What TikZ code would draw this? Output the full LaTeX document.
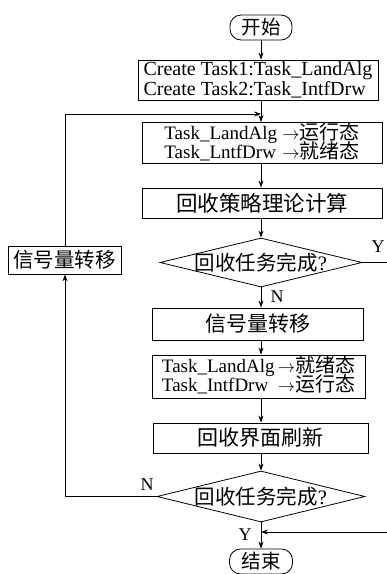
\documentclass[tikz,border=0pt]{standalone}
\usepackage{fontspec}
\setmainfont{Liberation Serif}
\newfontfamily\cjk{Noto Sans CJK SC}
\newcommand\zh[1]{{\cjk\fontsize{20}{17}\selectfont #1}}
\usetikzlibrary{shapes.geometric,arrows.meta}
\begin{document}
\begin{tikzpicture}[x=1pt,y=-1pt,
  line width=0.8pt,
  arr/.style={-{Stealth[length=7pt,width=5pt]}},
  box/.style={draw, rectangle, inner sep=0pt},
  term/.style={draw, rectangle, rounded corners=11pt, inner sep=0pt},
  dia/.style={draw, diamond, inner sep=0pt},
  zhf/.style={font=\cjk\fontsize{20.5}{20}\selectfont},
  enf/.style={font=\fontsize{19}{17}\selectfont},
  lbl/.style={font=\fontsize{18}{18}\selectfont, inner sep=0pt}
]
\useasboundingbox (0,0) rectangle (387,574);

\node[term, font=\cjk\fontsize{19.5}{20}\selectfont, minimum width=62, minimum height=25] (start) at (261,27.5) {开始};
\node[box, minimum width=240, minimum height=40, align=left,
  font=\fontsize{20}{16}\selectfont] (b1) at (258,80)
  {Create Task1:Task\_LandAlg\\Create Task2:Task\_IntfDrw};
\node[box, enf, minimum width=240, minimum height=38] (b2) at (262,143)
  {\begin{tabular}{@{}l@{}l@{}}Task\_LandAlg&\,$\rightarrow$\zh{运行态}\\[-3pt]Task\_LntfDrw\,&\,$\rightarrow$\zh{就绪态}\end{tabular}};
\node[box, font=\cjk\fontsize{21.5}{20}\selectfont, minimum width=240, minimum height=30] (b3) at (262,203) {回收策略理论计算};
\node[dia, minimum width=202, minimum height=49] (d1) at (261,262.5) {};
\node[zhf, inner sep=0pt] (d1t) at (261,262.5) {回收任务完成\textnormal{?}};
\node[box, zhf, minimum width=113, minimum height=28] (lb) at (64.5,260) {信号量转移};
\node[box, font=\cjk\fontsize{21}{20}\selectfont, minimum width=211, minimum height=32] (b4) at (257.5,324) {信号量转移};
\node[box, enf, minimum width=213, minimum height=43] (b5) at (258.5,376.5)
  {\begin{tabular}{@{}l@{}l@{}}Task\_LandAlg&\,$\rightarrow$\zh{就绪态}\\[-3pt]Task\_IntfDrw\,&\,$\rightarrow$\zh{运行态}\end{tabular}};
\node[box, font=\cjk\fontsize{21}{20}\selectfont, minimum width=215, minimum height=30] (b6) at (260.5,438) {回收界面刷新};
\node[dia, minimum width=208, minimum height=51] (d2) at (261,496.5) {};
\node[zhf, inner sep=0pt] (d2t) at (261,496.5) {回收任务完成\textnormal{?}};
\node[term, font=\cjk\fontsize{19.5}{20}\selectfont, minimum width=63, minimum height=25] (end) at (261,561.5) {结束};

\coordinate (j1) at (261,114);
\coordinate (lt) at (65,114);
\coordinate (lbt) at (65,496.5);
\coordinate (rt) at (387,262.5);
\coordinate (rb) at (387,532);
\coordinate (j2) at (261,532);

\draw[arr] (start) -- (start.south |- b1.north);
\draw[arr] (b1.south -| j1) -- (b2.north -| j1);
\draw[arr] (b2.south -| d1) -- (b3.north -| d1);
\draw[arr] (b3.south -| d1) -- (d1.north);
\draw[arr] (d1.south) -- (b4.north -| d1);
\draw[arr] (b4.south -| d1) -- (b5.north -| d1);
\draw[arr] (b5.south -| d1) -- (b6.north -| d1);
\draw[arr] (b6.south -| d1) -- (d2.north);
\draw[arr] (d2.south) -- (end.north);
\draw (d1.east) -- (rt);
\draw[arr] (rb) -- (j2);
\draw[arr] (d2.west) -- (lbt) -- (lb.south -| lbt);
\draw[arr] (lb.north -| lt) -- (lt) -- (j1);

\node[lbl] (ly1) at (378,247) {Y};
\node[lbl] (ln1) at (277,297) {N};
\node[lbl] (ln2) at (147,485) {N};
\node[lbl] (ly2) at (245,535) {Y};
\end{tikzpicture}
\end{document}
